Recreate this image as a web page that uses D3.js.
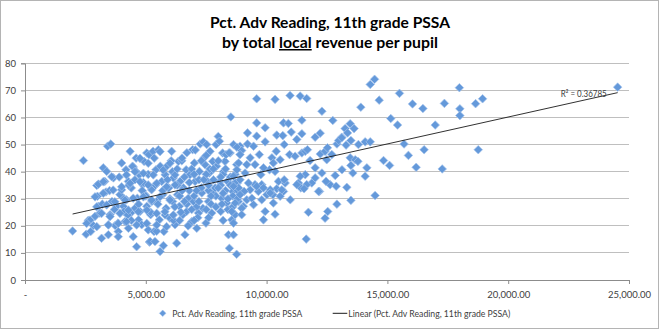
<!DOCTYPE html>
<html><head><meta charset="utf-8">
<script src="https://cdn.jsdelivr.net/npm/d3@7"></script>
<style>body{margin:0;background:#fff;font-family:Lato,"Open Sans",sans-serif}</style>
</head><body><svg id="c" width="660" height="330"></svg>
<script>
// local revenue per pupil (thousand $), pct advanced reading
const seriesName = "Pct. Adv Reading, 11th grade PSSA";
const trendName = "Linear (Pct. Adv Reading, 11th grade PSSA)";
const r2Label = "R\u00b2 = 0.36785";
const yTicks = [0,10,20,30,40,50,60,70,80];
const xTicks = [0,5,10,15,20,25];
const xTickLabels = ["-","5,000.00","10,000.00","15,000.00","20,000.00","25,000.00"];
const points = [
[1.97,18.1],[2.42,44.1],[2.53,16.9],[2.62,22],[2.72,17.9],[2.83,20.1],[2.9,23.5],[2.97,34.9],[3.04,35.4],[3.0,30.9],[3.04,27.2],[3.1,24.7],[3.17,15.4],[3.24,41.4],[3.3,36.4],[3.35,32.5],[3.38,40.1],[3.45,16.7],[3.42,49.4],[3.55,50.2],[3.45,20.4],[3.52,24.1],[3.6,29],[3.66,37.7],[3.73,20.1],[3.8,27.2],[3.86,17.9],[3.86,16],[3.93,31.5],[4.0,43.2],[4.0,33.3],[4.07,27.2],[4.1,25.3],[4.14,21.6],[4.18,40.7],[4.2,29.6],[4.28,19.1],[4.28,36.4],[4.35,47.5],[4.38,24.7],[4.4,34],[4.48,16],[4.48,41.7],[4.55,26.5],[4.6,45],[4.62,12.3],[4.65,30.2],[4.7,22.2],[4.73,38.9],[4.76,25.3],[4.83,20.4],[4.87,35.2],[4.93,43.8],[4.97,31.5],[5.04,27.2],[5.04,46.9],[5.1,18.5],[5.13,46.3],[5.15,14],[5.18,14.2],[5.2,24.1],[5.24,33.3],[5.3,47.5],[5.34,17.9],[5.38,14.2],[5.42,40.7],[5.45,29],[5.52,48.1],[5.56,22.2],[5.59,10.5],[5.66,36.4],[5.7,31.5],[5.73,12.7],[5.75,17.9],[5.8,38.9],[5.84,26.5],[5.87,42],[5.93,34],[6.0,22.8],[6.07,47.5],[6.11,29],[6.14,37.7],[6.21,20.4],[6.28,13.6],[6.31,31.5],[6.35,43.8],[6.39,27.2],[6.42,36.4],[6.49,44],[6.53,24.1],[6.56,34],[6.62,16.7],[6.67,40.7],[6.69,25.3],[6.76,30.2],[6.8,20.4],[6.83,38.9],[6.9,21.6],[6.94,48.1],[6.97,29],[7.01,43.2],[7.04,36.4],[7.11,19.1],[7.18,24.7],[7.22,40.1],[7.25,50.2],[7.32,32.1],[7.36,26.5],[7.38,51],[7.45,42.6],[7.49,21],[7.52,50],[7.55,36.4],[7.59,29],[7.63,39.5],[7.66,47.5],[7.73,24.7],[7.77,43.8],[7.8,32],[7.87,34],[7.91,50],[7.93,42],[8.0,53],[8.05,51.2],[8.07,36.4],[8.1,25.3],[8.14,30.2],[8.18,46.9],[8.21,40],[8.28,43.8],[8.32,46.3],[8.35,28.4],[8.38,36.4],[8.42,16.7],[8.46,11.7],[8.49,46.9],[8.52,60.2],[8.56,22.2],[8.6,32.7],[8.63,50],[8.7,24.1],[8.76,9.5],[8.76,42.6],[8.79,35.8],[8.83,29],[8.9,49.4],
[3.2,28],[3.5,33],[3.7,26],[3.9,38],[4.1,30],[4.3,35],[4.4,22],[4.6,40],[4.7,28],[4.9,36],[5.0,31],[5.1,39],[5.2,25],[5.4,35],[5.5,28],[5.6,42],[5.7,33],[5.8,24],[5.9,37],[6.0,30],[6.1,40],[6.2,27],[6.3,35],[6.4,31],[6.5,45],[6.6,38],[6.7,28],[6.8,33],[6.9,41],[7.0,31],[7.1,27],[7.2,37],[7.3,34],[7.4,45],[7.5,39],[7.6,33],[7.7,28],[7.8,37],[7.9,31],[8.0,44],[8.1,35],[8.2,39],[8.3,33],[8.4,26],[8.5,38],[8.6,31],[8.7,36],[8.8,30],[6.15,22],[5.45,18],[4.25,24],[3.85,21],[7.15,23],[6.75,20],[5.95,34],[5.25,29],[4.55,37],[4.85,33],[6.45,25],[7.65,41],[8.15,28],[8.45,47],[7.05,48],[6.05,44],[5.35,45],[4.45,42],
[4.76,44.9],[5.1,43.1],[5.59,47.4],[6.0,43.1],[3.59,38.1],[3.24,36.3],[4.2,38.8],[4.55,40],[4.9,39.4],[5.31,38.8],[5.72,40.6],[6.21,38.8],[2.9,30.7],[3.24,32],[3.65,33.2],[4.0,34.4],[4.35,35.7],[4.76,36.3],[5.1,35.1],[5.45,35.7],[5.86,34.4],[6.21,35.1],[2.97,27],[3.38,27.7],[3.72,28.9],[4.14,29.5],[4.48,30.2],[4.9,30.7],[5.24,29.5],[5.59,30.7],[6.0,29.5],[2.69,22.1],[3.17,24.6],[3.52,23.4],[3.93,24.6],[4.28,25.8],[4.69,25.2],[5.04,25.8],[5.45,24.6],[5.79,25.2],[6.14,24],[2.55,20.9],[2.97,19.7],[3.45,20.3],[3.86,20.9],[4.2,21.5],[4.62,20.3],[5.04,20.9],[5.45,20.3],[5.86,19.7],
[6.3,41],[6.5,33],[6.6,29],[6.8,36],[6.9,26],[7.0,39],[7.1,33],[7.2,29],[7.3,44],[7.4,37],[7.5,26],[7.6,35],[7.7,31],[7.8,41],[7.9,27],[8.0,34],[8.1,38],[8.2,32],[8.3,41],[8.4,30],[8.5,35],[8.6,27],[8.7,39],[8.8,33],[6.4,22],[7.0,22],[7.6,23],[8.2,22],[6.7,47],[7.5,46],
[9.59,66.9],[10.35,66.7],[10.97,68.1],[11.39,67.9],[11.66,67],[12.29,62.3],[14.29,72.2],[14.47,74.1],[14.66,66.4],[15.5,68.9],[16.04,65],[16.47,63.3],[17.36,65.2],[13.9,63.8],[12.74,58.9],[11.46,59],[10.7,58],[10.9,57.8],[9.94,56.2],[9.59,58],[9.21,54.3],[9.59,53.1],[10.42,53.5],[10.67,53.3],[11.02,54.6],[11.46,54],[12.01,52.7],[12.22,54.2],[13.25,55.9],[13.46,57.7],[13.62,55.9],[13.11,52.7],[13.35,54.3],[15.14,59.6],[15.42,57.2],[16.98,57.2],[8.77,49],[9.21,50.2],[8.97,47.8],[8.9,46.3],[9.46,49.4],[9.7,46.3],[9.94,51],[10.22,45.1],[10.4,47.5],[10.73,50],[10.95,46.3],[11.25,51.9],[11.18,45.7],[11.46,46.9],[11.6,47.5],[11.69,48.1],[11.8,44.1],[12.01,41.4],[12.22,46.5],[12.42,47.5],[12.52,48.8],[12.49,44.4],[12.7,46.3],[12.91,50.2],[12.98,51.5],[13.11,52.5],[13.29,49.8],[13.49,51.5],[13.8,50],[14.08,51],[14.29,51],[13.46,45.1],[13.67,44.4],[13.78,43.8],[13.49,42.3],[13.57,39.5],[14.08,38.3],[14.15,41.4],[13.12,40.7],[14.84,44.1],[15.09,42.3],[15.69,50.2],[15.87,46],[16.19,41.6],[16.52,48.1],[17.27,41],[14.49,31.2],[13.49,29.4],[13.32,34.2],[12.91,28],[12.53,25.3],[12.42,22.8],[12.84,38.6],[12.63,35.2],[12.46,36.4],[12.88,34.6],[12.29,39.5],[12.01,37.7],[12.19,32.7],[11.87,35.8],[11.6,38.9],[11.66,35.2],[11.32,35.8],[11.42,34],[11.55,33.7],[11.39,38.3],[10.98,29.6],[10.77,35.8],[10.7,32.7],[10.49,36.4],[10.42,33.7],[10.26,31.5],[10.15,33.3],[10.35,40.1],[10.56,44.4],[10.28,43.2],[10.12,40.7],[9.87,41.4],[9.76,38.9],[9.52,35.2],[9.66,32.7],[9.8,35.2],[9.52,42.6],[9.32,45.1],[9.18,42.6],[9.11,39.5],[8.84,43.2],[8.77,40.7],[8.63,38.3],[8.9,37],[9.25,35.8],[9.32,33.3],[9.07,32.7],[8.84,34],[8.63,34.6],[8.9,31.5],[9.18,29.6],[9.39,30.2],[8.7,28.4],[9.04,27.2],[9.46,27.8],[9.59,34.6],[9.87,34],[10.01,31.5],[10.15,32.1],[10.28,28.4],[10.56,30.9],[10.63,33.3],[10.73,37],[9.8,29.6],[8.97,26.5],[8.56,25.3],[8.63,21],[8.97,24.1],[8.63,16.7],[9.94,25.3],[9.87,22.2],[10.35,24.3],[11.25,35.2],[11.73,25],[11.64,15.1],[12.15,32.7],
[17.98,71],[18.0,63.2],[18.0,60.7],[18.65,65.1],[18.94,66.9],[18.76,48.1],[24.53,71.2]
];

const svg = d3.select("#c");
const font = "Lato, 'Open Sans', sans-serif";
svg.append("rect").attr("x",0.5).attr("y",0.5).attr("width",658).attr("height",328)
  .attr("fill","#fff").attr("stroke","#b4b4b4");

const x = d3.scaleLinear().domain([0,25]).range([25,629]);
const y = d3.scaleLinear().domain([0,80]).range([280,63.3]);

svg.append("g").selectAll("line").data(yTicks.filter(d=>d>0)).join("line")
  .attr("x1",x(0)).attr("x2",x(25)).attr("y1",d=>y(d)).attr("y2",d=>y(d))
  .attr("stroke","#bfbfbf").attr("stroke-width",1).attr("shape-rendering","crispEdges");

const yAxis = svg.append("g").attr("transform",`translate(${x(0)},0)`)
  .call(d3.axisLeft(y).tickValues(yTicks).tickSize(4).tickPadding(5).tickFormat(d3.format("d")));
const xAxis = svg.append("g").attr("transform",`translate(0,${y(0)})`)
  .call(d3.axisBottom(x).tickValues(xTicks).tickSize(4).tickPadding(7).tickFormat((d,i)=>xTickLabels[i]));
[yAxis,xAxis].forEach(g=>{
  g.select(".domain").attr("stroke","#8c8c8c");
  g.selectAll(".tick line").attr("stroke","#8c8c8c");
  g.selectAll("text").attr("fill","#404040").attr("font-family",font).attr("font-size",9.5);
});

const diamond = s => `M0,${-s}L${s},0L0,${s}L${-s},0Z`;
svg.append("g").selectAll("path").data(points).join("path")
  .attr("d",diamond(4.3))
  .attr("transform",d=>`translate(${x(d[0])},${y(d[1])})`)
  .attr("fill","#6499da").attr("stroke","#a6c4ec").attr("stroke-width",0.7);

// linear trend (least squares from data)
const mx = d3.mean(points,d=>d[0]), my = d3.mean(points,d=>d[1]);
const sxy = d3.sum(points,d=>(d[0]-mx)*(d[1]-my)), sxx = d3.sum(points,d=>(d[0]-mx)**2);
const slope = sxy/sxx, icpt = my - slope*mx;
const xmin = d3.min(points,d=>d[0]), xmax = d3.max(points,d=>d[0]);
svg.append("line").attr("x1",x(xmin)).attr("y1",y(icpt+slope*xmin))
  .attr("x2",x(xmax)).attr("y2",y(icpt+slope*xmax))
  .attr("stroke","#1a1a1a").attr("stroke-width",0.9);

svg.append("text").attr("x",560.7).attr("y",96.5).attr("font-family",font)
  .attr("font-size",9).attr("fill","#404040").attr("textLength",46).attr("lengthAdjust","spacingAndGlyphs")
  .text(r2Label);

svg.append("text").attr("x",210).attr("y",28).attr("font-family",font)
  .attr("font-weight","bold").attr("font-size",15).attr("fill","#000")
  .attr("textLength",240).attr("lengthAdjust","spacingAndGlyphs").text("Pct. Adv Reading, 11th grade PSSA");
const t2 = svg.append("text").attr("x",222).attr("y",48).attr("font-family",font)
  .attr("font-weight","bold").attr("font-size",15).attr("fill","#000")
  .attr("textLength",216).attr("lengthAdjust","spacingAndGlyphs");
t2.append("tspan").text("by total ");
t2.append("tspan").attr("text-decoration","underline").text("local");
t2.append("tspan").text(" revenue per pupil");

svg.append("path").attr("d",diamond(3.3)).attr("transform","translate(162.7,313.3)")
  .attr("fill","#6499da").attr("stroke","#a6c4ec").attr("stroke-width",0.6);
svg.append("text").attr("x",172.3).attr("y",316.6).attr("font-family",font).attr("font-size",9.5)
  .attr("fill","#404040").attr("textLength",130).attr("lengthAdjust","spacingAndGlyphs").text(seriesName);
svg.append("line").attr("x1",332.7).attr("x2",347.3).attr("y1",313.3).attr("y2",313.3)
  .attr("stroke","#1a1a1a").attr("stroke-width",1);
svg.append("text").attr("x",348.3).attr("y",316.6).attr("font-family",font).attr("font-size",9.5)
  .attr("fill","#404040").attr("textLength",162).attr("lengthAdjust","spacingAndGlyphs").text(trendName);
</script></body></html>
